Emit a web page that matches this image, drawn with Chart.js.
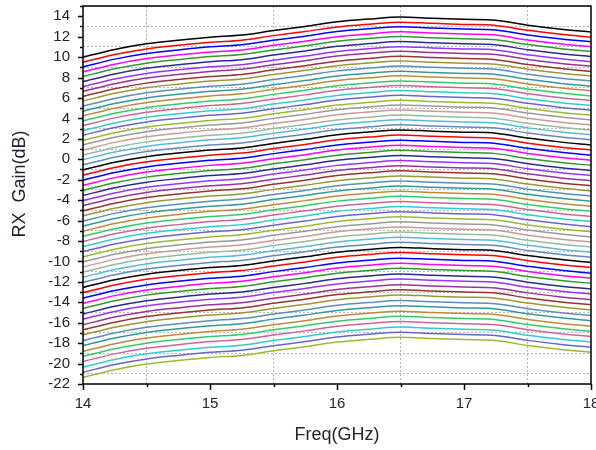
<!DOCTYPE html>
<html>
<head>
<meta charset="utf-8">
<script src="https://cdn.jsdelivr.net/npm/chart.js@4.4.0/dist/chart.umd.min.js"></script>
<style>
    html, body { margin: 0; padding: 0; background: #fff; overflow: hidden; }
    #chart { display: block; }
</style>
</head>
<body>
<canvas id="chart" width="596" height="450"></canvas>
<script>
// Frequency points (GHz)
const freqGHz = [14, 14.25, 14.5, 14.75, 15, 15.25, 15.5, 15.75, 16, 16.25, 16.5, 16.75, 17, 17.25, 17.5, 17.75, 18];

// Gain of the highest gain state (top black trace), dB
const topGain = [10.0, 10.75, 11.3, 11.65, 11.95, 12.15, 12.6, 13.0, 13.45, 13.72, 13.92, 13.8, 13.7, 13.6, 13.12, 12.75, 12.45];

// Attenuation of each of the 64 gain states below the top trace, dB (read at 14 GHz)
const stateAtten = [
    0, 0.5, 0.95, 1.45, 1.9, 2.4, 2.9, 3.35, 3.85, 4.3, 4.8, 5.3, 5.75, 6.25, 6.7, 7.2,
    7.65, 8.15, 8.6, 9.1, 9.6, 10.05, 10.55, 11.05, 11.55, 12.05, 12.55, 13.05, 13.55, 14.05, 14.55, 15.05,
    15.55, 16.05, 16.55, 17.05, 17.55, 18.05, 18.55, 19.05, 19.55, 20.05, 20.55, 21.05, 21.55, 22.05, 22.55, 23.05,
    23.6, 24.1, 24.6, 25.15, 25.65, 26.2, 26.7, 27.2, 27.75, 28.25, 28.8, 29.3, 29.8, 30.35, 30.85, 31.35
];

// Line colours, cycled (same order as the plotting program)
const lineColors = [
    '#000000', '#FF0000', '#0000FF', '#FF00FF', '#2E9A2E', '#2B2B8F', '#9933FF', '#993399',
    '#993333', '#999933', '#5B8FB9', '#339999', '#C08A3A', '#33CC66', '#CC6699', '#33CCCC',
    '#6666CC', '#99BB33', '#999999', '#CC9999', '#99BB99', '#55BBDD', '#6688BB'
];

const xTickLabels = [14, 15, 16, 17, 18];
const yTickLabels = [-22, -20, -18, -16, -14, -12, -10, -8, -6, -4, -2, 0, 2, 4, 6, 8, 10, 12, 14];

const tickFont = { family: '"Liberation Sans", Arial, sans-serif', size: 15 };
const textColor = '#222233';

const datasets = stateAtten.map(function (att, k) {
    return {
        label: 'state ' + k,
        data: freqGHz.map(function (f, i) { return { x: f, y: topGain[i] - att }; }),
        borderColor: lineColors[k % lineColors.length],
        borderWidth: 1.5,
        pointRadius: 0,
        fill: false,
        cubicInterpolationMode: 'monotone'
    };
});

// frame, outside tick marks and axis titles (drawn the way the original plot does)
const frameAndTicks = {
    id: 'frameAndTicks',
    afterDatasetsDraw(chart) {
        const { ctx, chartArea: a, scales: { x, y } } = chart;
        ctx.save();
        ctx.setLineDash([]);
        ctx.strokeStyle = '#000';
        ctx.lineWidth = 1.5;

        x.ticks.forEach(function (t) {
            const px = Math.round(x.getPixelForValue(t.value)) + 0.5;
            const len = xTickLabels.includes(t.value) ? 6 : 3;
            ctx.beginPath();
            ctx.moveTo(px, a.bottom);
            ctx.lineTo(px, a.bottom + len);
            ctx.stroke();
        });
        y.ticks.forEach(function (t) {
            const py = Math.round(y.getPixelForValue(t.value)) + 0.5;
            const len = yTickLabels.includes(t.value) ? 5 : 3;
            ctx.beginPath();
            ctx.moveTo(a.left - len, py);
            ctx.lineTo(a.left, py);
            ctx.stroke();
        });

        ctx.strokeRect(a.left, a.top, a.right - a.left, a.bottom - a.top);

        ctx.fillStyle = textColor;
        ctx.font = '18px "Liberation Sans", Arial, sans-serif';
        ctx.textAlign = 'center';
        ctx.textBaseline = 'middle';
        ctx.fillText('Freq(GHz)', (a.left + a.right) / 2, 435);
        ctx.translate(20, 184);
        ctx.rotate(-Math.PI / 2);
        ctx.fillText('RX  Gain(dB)', 0, 0);
        ctx.restore();
    }
};

const gridColor = function (labels) {
    return function (c) {
        return (c.tick && !labels.includes(c.tick.value)) ? '#b4b4b4' : 'rgba(0,0,0,0)';
    };
};

new Chart(document.getElementById('chart'), {
    type: 'line',
    data: { datasets: datasets },
    options: {
        responsive: false,
        animation: false,
        layout: { autoPadding: false, padding: { top: 6, right: 5, left: 0, bottom: 0 } },
        plugins: { legend: { display: false }, tooltip: { enabled: false } },
        scales: {
            x: {
                type: 'linear',
                min: 14,
                max: 18,
                // fixed axis band; no extra room for the end labels (the "18" is cut at the edge in the original)
                afterFit: function (s) { s.height = 66; s.paddingLeft = 0; s.paddingRight = 0; },
                ticks: {
                    stepSize: 0.5,
                    autoSkip: false,
                    maxRotation: 0,
                    padding: 11,
                    color: textColor,
                    font: tickFont,
                    callback: function (v) { return xTickLabels.includes(v) ? String(v) : ''; }
                },
                grid: { drawTicks: false, color: gridColor(xTickLabels), lineWidth: 1 },
                border: { display: false, dash: [2, 2] }
            },
            y: {
                type: 'linear',
                min: -22,
                max: 15,
                afterFit: function (s) { s.width = 83; s.paddingTop = 0; s.paddingBottom = 0; },
                ticks: {
                    stepSize: 1,
                    autoSkip: false,
                    padding: 13,
                    color: textColor,
                    font: tickFont,
                    callback: function (v) { return yTickLabels.includes(v) ? String(v) : ''; }
                },
                grid: { drawTicks: false, color: gridColor(yTickLabels), lineWidth: 1 },
                border: { display: false, dash: [2, 2] }
            }
        }
    },
    plugins: [frameAndTicks]
});
</script>
</body>
</html>
